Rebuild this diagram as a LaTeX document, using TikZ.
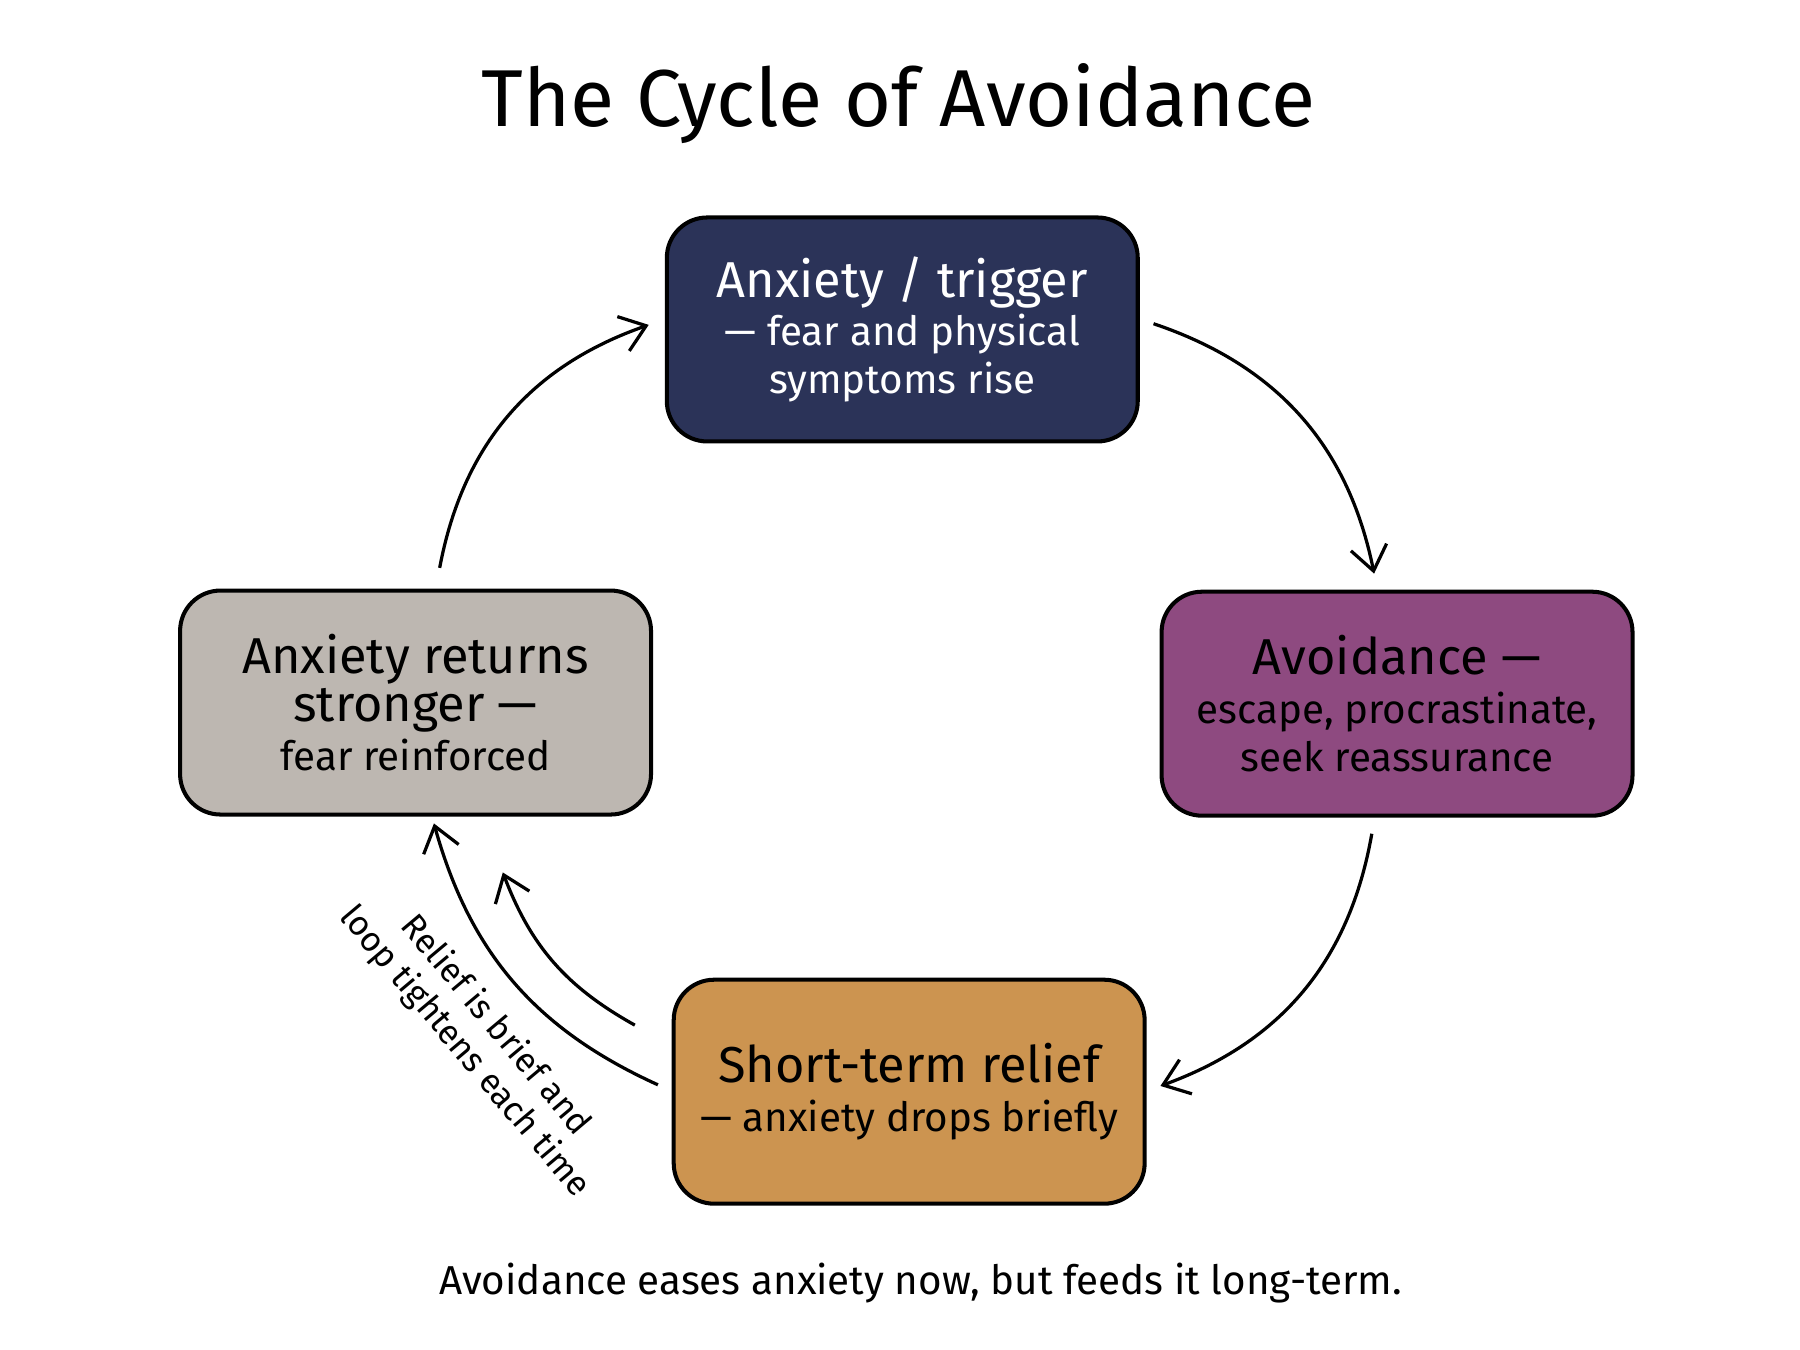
\documentclass[tikz,border=0pt]{standalone}
\usepackage{fontspec}
\setmainfont{Fira Sans}
\usetikzlibrary{positioning, arrows.meta, calc}

\definecolor{navy}{HTML}{2B3358}
\definecolor{plum}{HTML}{8E4A80}
\definecolor{ochre}{HTML}{CC9450}
\definecolor{stone}{HTML}{BDB7B1}

\tikzset{
    stage/.style={draw=black, line width=1pt, rounded corners=10pt,
        minimum width=4.1cm, minimum height=1.95cm, align=center,
        font=\fontsize{10}{12}\selectfont},
    cyc/.style={-{Straight Barb[length=6pt, width=9pt]}, line width=0.8pt}
}
\newcommand{\head}[1]{{\fontsize{12.5}{14}\selectfont #1}}

\begin{document}
\begin{tikzpicture}[x=0.01cm, y=-0.01cm]
    \useasboundingbox (0,0) rectangle (1568,1176);
    \node (title) at (783,90) {\fontsize{20}{24}\selectfont The Cycle of Avoidance};

    \node[stage, fill=navy, text=white] (trig) at (786,287)
        {\head{Anxiety / trigger}\\--- fear and physical\\symptoms rise};
    \node[stage, fill=plum] (avoid) at (1217,613)
        {\head{Avoidance ---}\\escape, procrastinate,\\seek reassurance};
    \node[stage, fill=ochre] (relief) at (792,951)
        {\head{Short-term relief}\\--- anxiety drops briefly};
    \node[stage, fill=stone] (back) at (362,612)
        {\head{Anxiety returns}\\\head{stronger ---}\\fear reinforced};

    \coordinate (inA) at (553,893);
    \coordinate (inB) at (438,760);

    \draw[cyc] ($(trig.east)+(12,-5)$) to[bend left=30] ($(avoid.north)+(-20,-14)$);
    \draw[cyc] ($(avoid.south)+(-22,14)$) to[bend left=30] ($(relief.east)+(12,-5)$);
    \draw[cyc] ($(relief.west)+(-12,-6)$) to[bend left=25] ($(back.south)+(16,6)$);
    \draw[cyc] (inA) to[bend left=20] (inB);
    \draw[cyc] ($(back.north)+(21,-18)$) to[bend left=30] ($(trig.west)+(-14,-4)$);

    \node[rotate=-50, align=center, font=\fontsize{8.5}{10}\selectfont] (note) at (418,905)
        {Relief is brief and\\loop tightens each time};

    \node (caption) at (802,1118) {\fontsize{10}{12}\selectfont Avoidance eases anxiety now, but feeds it long-term.};
\end{tikzpicture}
\end{document}
